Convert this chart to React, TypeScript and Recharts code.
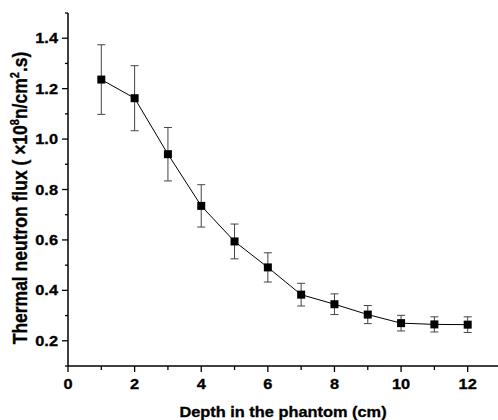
import { LineChart, Line, XAxis, YAxis, ErrorBar } from 'recharts';

// values
const depths = [1, 2, 3, 4, 5, 6, 7, 8, 9, 10, 11, 12];
const flux = [1.236, 1.162, 0.94, 0.735, 0.594, 0.491, 0.383, 0.345, 0.304, 0.27, 0.265, 0.264];
const fluxErr = [0.138, 0.129, 0.106, 0.084, 0.069, 0.058, 0.045, 0.041, 0.036, 0.031, 0.03, 0.031];

const xTicks = [0, 1, 2, 3, 4, 5, 6, 7, 8, 9, 10, 11, 12];
const yTicks = [0.1, 0.2, 0.3, 0.4, 0.5, 0.6, 0.7, 0.8, 0.9, 1.0, 1.1, 1.2, 1.3, 1.4, 1.5];

const data = depths.map((d, i) => ({ depth: d, flux: flux[i], err: fluxErr[i] }));

const FONT = '"Liberation Sans", Arial, sans-serif';
const SX = 1.17; // the original text is a bit stretched sideways

const XTick = ({ x, y, payload }: any) => {
  const v = payload.value;
  const major = v % 2 === 0;
  return (
    <g>
      <line x1={x} x2={x} y1={y} y2={y + (major ? 6 : 4)} stroke="#000" strokeWidth={1.3} />
      {major && (
        <text
          transform={`translate(${x},${y + 23}) scale(${SX},1)`}
          textAnchor="middle"
          fontFamily={FONT}
          fontWeight={700}
          fontSize={14}
          fill="#000"
          stroke="#000"
          strokeWidth={0.3}
        >
          {v}
        </text>
      )}
    </g>
  );
};

const YTick = ({ x, y, payload }: any) => {
  const v = payload.value;
  const major = Math.round(v * 10) % 2 === 0;
  return (
    <g>
      <line x1={x - (major ? 6 : 3)} x2={x} y1={y} y2={y} stroke="#000" strokeWidth={1.3} />
      {major && (
        <text
          transform={`translate(${x - 10},${y + 5}) scale(${SX},1)`}
          textAnchor="end"
          fontFamily={FONT}
          fontWeight={700}
          fontSize={14}
          fill="#000"
          stroke="#000"
          strokeWidth={0.3}
        >
          {v.toFixed(1)}
        </text>
      )}
    </g>
  );
};

const SquareDot = (props: any) => {
  const { cx, cy, index } = props;
  if (cx == null || cy == null) return <g key={`d-${index}`} />;
  return <rect key={`d-${index}`} x={cx - 4} y={cy - 4} width={8} height={8} fill="#000" />;
};

export default function App() {
  return (
    <div style={{ position: 'absolute', left: 0, top: 0, width: 498, height: 420, background: '#fff' }}>
      <LineChart width={498} height={420} data={data} margin={{ top: 13, right: -3, bottom: 0, left: 0 }}>
        <XAxis
          dataKey="depth"
          type="number"
          domain={[0, 13]}
          ticks={xTicks}
          interval={0}
          tickSize={0}
          tickMargin={0}
          tick={<XTick />}
          tickLine={false}
          axisLine={{ stroke: '#000', strokeWidth: 1.5 }}
          height={54}
        />
        <YAxis
          type="number"
          domain={[0.1, 1.5]}
          ticks={yTicks}
          interval={0}
          tickSize={0}
          tickMargin={0}
          tick={<YTick />}
          tickLine={false}
          axisLine={{ stroke: '#000', strokeWidth: 1.5 }}
          width={68}
        />
        <Line
          dataKey="flux"
          stroke="#000"
          strokeWidth={1}
          dot={SquareDot}
          activeDot={false}
          isAnimationActive={false}
        >
          <ErrorBar dataKey="err" direction="y" width={4} stroke="#444" strokeWidth={1} />
        </Line>
        <text
          transform={`translate(283,417) scale(${SX},1)`}
          textAnchor="middle"
          fontFamily={FONT}
          fontWeight={700}
          fontSize={14}
          fill="#000"
          stroke="#000"
          strokeWidth={0.3}
        >
          Depth in the phantom (cm)
        </text>
        <text
          transform={`translate(27,198) scale(${SX},1) rotate(-90)`}
          textAnchor="middle"
          fontFamily={FONT}
          fontWeight={700}
          fontSize={17.5}
          fill="#000"
          stroke="#000"
          strokeWidth={0.3}
        >
          Thermal neutron flux ( ×10
          <tspan dy={-7} fontSize={11}>8</tspan>
          <tspan dy={7}>n/cm</tspan>
          <tspan dy={-7} fontSize={11}>2</tspan>
          <tspan dy={7}>.s)</tspan>
        </text>
      </LineChart>
    </div>
  );
}
